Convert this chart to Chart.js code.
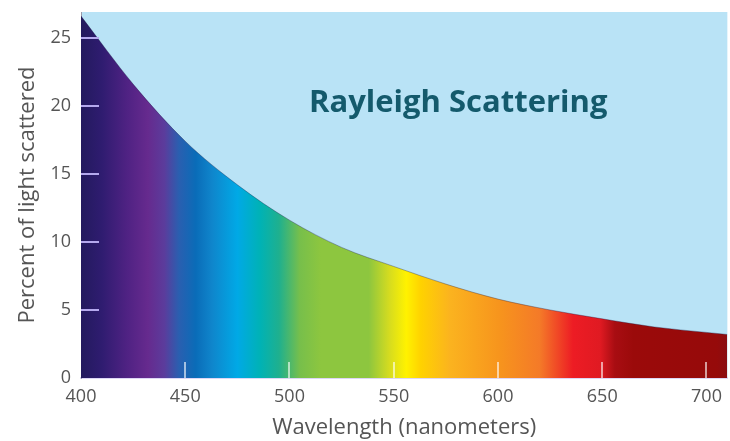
<!DOCTYPE html>
<html>
<head>
<meta charset="utf-8">
<script src="https://cdn.jsdelivr.net/npm/chart.js@4.4.1/dist/chart.umd.min.js"></script>
<style>
    body { margin: 0; background: #ffffff; }
    #wrap { width: 730px; height: 441px; }
</style>
</head>
<body>
<div id="wrap"><canvas id="rayleighChart" width="730" height="441"></canvas></div>
<script>
// values (nm -> percent scattered)
const wavelengths = [400, 425, 450, 475, 500, 525, 550, 575, 600, 625, 650, 675, 700, 710];
const scattered = [26.6, 21.6, 17.4, 14.2, 11.6, 9.6, 8.2, 6.9, 5.8, 5.0, 4.35, 3.75, 3.35, 3.2];

const xTicks = [400, 450, 500, 550, 600, 650, 700];
const yTicks = [0, 5, 10, 15, 20, 25];

const chartTitle = "Rayleigh Scattering";
const xTitle = "Wavelength (nanometers)";
const yTitle = "Percent of light scattered";

// spectrum colour stops, by wavelength
const spectrumNm = [400, 410, 422, 432, 440, 447, 455, 463, 475, 486, 495, 505, 515, 538, 548, 556, 563, 577, 601, 620, 636, 649, 656, 665, 705, 710];
const spectrumColors = [
    "#231a5e", "#2f1c70", "#4f2283", "#662a8e", "#5b3c9c", "#2a5fb0",
    "#0a6cb8", "#0f86cc", "#00a9e6", "#00b2b5", "#1fb08e", "#77bf4b",
    "#8dc63f", "#8dc63f", "#d6dc1f", "#fff200", "#ffd200", "#fbb31f",
    "#f7941d", "#f47a28", "#ed1c24", "#e01a22", "#a80d12", "#9b0a0a",
    "#960a0a", "#8a0d12",
];

const spectrumFill = (context) => {
    const chart = context.chart;
    const area = chart.chartArea;
    if (!area) return "#8dc63f";
    const xs = chart.scales.x;
    const grad = chart.ctx.createLinearGradient(area.left, 0, area.right, 0);
    spectrumNm.forEach((nm, i) => {
        const px = xs.getPixelForValue(nm);
        const stop = Math.min(1, Math.max(0, (px - area.left) / (area.right - area.left)));
        grad.addColorStop(stop, spectrumColors[i]);
    });
    return grad;
};

const skyPlugin = {
    id: "sky",
    beforeDraw: (chart) => {
        const { ctx, chartArea } = chart;
        ctx.save();
        ctx.fillStyle = "#b9e3f6";
        ctx.fillRect(chartArea.left, chartArea.top, chartArea.right - chartArea.left, chartArea.bottom - chartArea.top);
        ctx.restore();
    },
};

// short tick marks drawn inside the plot, plus the big label
const decorPlugin = {
    id: "decor",
    afterDatasetsDraw: (chart) => {
        const { ctx, chartArea, scales } = chart;
        ctx.save();
        ctx.lineWidth = 2;
        ctx.strokeStyle = "#b5a9ee";
        yTicks.filter((v) => v > 0).forEach((v) => {
            const y = Math.round(scales.y.getPixelForValue(v));
            ctx.beginPath();
            ctx.moveTo(chartArea.left, y);
            ctx.lineTo(chartArea.left + 18, y);
            ctx.stroke();
        });
        ctx.strokeStyle = "rgba(255, 255, 255, 0.6)";
        xTicks.filter((v) => v > 400).forEach((v) => {
            const x = Math.round(scales.x.getPixelForValue(v));
            ctx.beginPath();
            ctx.moveTo(x, chartArea.bottom);
            ctx.lineTo(x, chartArea.bottom - 16);
            ctx.stroke();
        });

        ctx.fillStyle = "#145a6c";
        ctx.font = "bold 31px 'Open Sans'";
        ctx.textAlign = "left";
        ctx.textBaseline = "alphabetic";
        ctx.fillText(chartTitle, 309, 112);
        ctx.restore();
    },
};

const ctx = document.getElementById("rayleighChart").getContext("2d");
const rayleighChart = new Chart(ctx, {
    type: "line",
    data: {
        datasets: [
            {
                label: "Scattered",
                data: wavelengths.map((nm, i) => ({ x: nm, y: scattered[i] })),
                fill: "origin",
                backgroundColor: spectrumFill,
                borderColor: "rgba(30, 30, 70, 0.35)",
                borderWidth: 1,
                pointRadius: 0,
                cubicInterpolationMode: "monotone",
            },
        ],
    },
    options: {
        responsive: false,
        animation: false,
        layout: { padding: { top: 12, right: 2, left: 0, bottom: 0 } },
        plugins: {
            legend: { display: false },
            tooltip: { enabled: false },
        },
        scales: {
            x: {
                type: "linear",
                min: 400,
                max: 710,
                grid: { drawOnChartArea: false, drawTicks: false },
                border: { color: "#ddd6f6", width: 2 },
                afterFit: (scale) => { scale.height = 63; },
                afterBuildTicks: (scale) => { scale.ticks = xTicks.map((v) => ({ value: v })); },
                ticks: {
                    padding: 8,
                    color: "#555555",
                    font: { family: "'Open Sans'", size: 18 },
                },
                title: {
                    display: true,
                    text: xTitle,
                    color: "#555555",
                    font: { family: "'Open Sans'", size: 22 },
                    padding: { top: 0, bottom: 0 },
                },
            },
            y: {
                min: 0,
                max: 26.9,
                grid: { drawOnChartArea: false, drawTicks: false },
                border: { color: "#9a9aa8", width: 1 },
                afterFit: (scale) => {
                    scale.width = 81;
                    scale.paddingTop = 0;
                    scale.paddingBottom = 0;
                },
                afterBuildTicks: (scale) => { scale.ticks = yTicks.map((v) => ({ value: v })); },
                ticks: {
                    padding: 10,
                    color: "#555555",
                    font: { family: "'Open Sans'", size: 18 },
                },
                title: {
                    display: true,
                    text: yTitle,
                    color: "#555555",
                    font: { family: "'Open Sans'", size: 22 },
                    padding: { top: 15, bottom: 0 },
                },
            },
        },
    },
    plugins: [skyPlugin, decorPlugin],
});
</script>
</body>
</html>
